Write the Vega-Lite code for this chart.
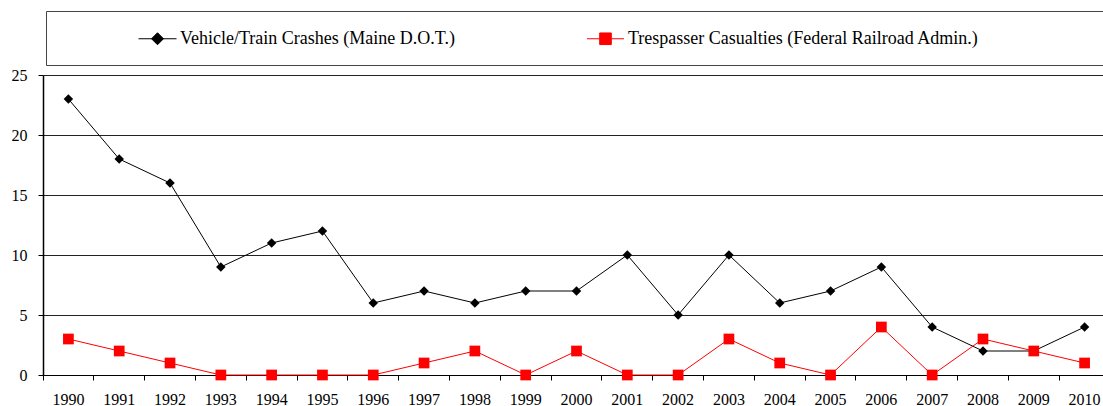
{
  "$schema": "https://vega.github.io/schema/vega-lite/v6.json",
  "width": 1060,
  "height": 300,
  "autosize": {"type": "none"},
  "padding": {"left": 43, "top": 75, "right": 0, "bottom": 31},
  "background": "white",
  "config": {"view": {"stroke": null}, "font": "Liberation Serif"},
  "data": {
    "values": [
      {"year": 1990, "series": "Vehicle/Train Crashes (Maine D.O.T.)", "value": 23},
      {"year": 1991, "series": "Vehicle/Train Crashes (Maine D.O.T.)", "value": 18},
      {"year": 1992, "series": "Vehicle/Train Crashes (Maine D.O.T.)", "value": 16},
      {"year": 1993, "series": "Vehicle/Train Crashes (Maine D.O.T.)", "value": 9},
      {"year": 1994, "series": "Vehicle/Train Crashes (Maine D.O.T.)", "value": 11},
      {"year": 1995, "series": "Vehicle/Train Crashes (Maine D.O.T.)", "value": 12},
      {"year": 1996, "series": "Vehicle/Train Crashes (Maine D.O.T.)", "value": 6},
      {"year": 1997, "series": "Vehicle/Train Crashes (Maine D.O.T.)", "value": 7},
      {"year": 1998, "series": "Vehicle/Train Crashes (Maine D.O.T.)", "value": 6},
      {"year": 1999, "series": "Vehicle/Train Crashes (Maine D.O.T.)", "value": 7},
      {"year": 2000, "series": "Vehicle/Train Crashes (Maine D.O.T.)", "value": 7},
      {"year": 2001, "series": "Vehicle/Train Crashes (Maine D.O.T.)", "value": 10},
      {"year": 2002, "series": "Vehicle/Train Crashes (Maine D.O.T.)", "value": 5},
      {"year": 2003, "series": "Vehicle/Train Crashes (Maine D.O.T.)", "value": 10},
      {"year": 2004, "series": "Vehicle/Train Crashes (Maine D.O.T.)", "value": 6},
      {"year": 2005, "series": "Vehicle/Train Crashes (Maine D.O.T.)", "value": 7},
      {"year": 2006, "series": "Vehicle/Train Crashes (Maine D.O.T.)", "value": 9},
      {"year": 2007, "series": "Vehicle/Train Crashes (Maine D.O.T.)", "value": 4},
      {"year": 2008, "series": "Vehicle/Train Crashes (Maine D.O.T.)", "value": 2},
      {"year": 2009, "series": "Vehicle/Train Crashes (Maine D.O.T.)", "value": 2},
      {"year": 2010, "series": "Vehicle/Train Crashes (Maine D.O.T.)", "value": 4},
      {"year": 1990, "series": "Trespasser Casualties (Federal Railroad Admin.)", "value": 3},
      {"year": 1991, "series": "Trespasser Casualties (Federal Railroad Admin.)", "value": 2},
      {"year": 1992, "series": "Trespasser Casualties (Federal Railroad Admin.)", "value": 1},
      {"year": 1993, "series": "Trespasser Casualties (Federal Railroad Admin.)", "value": 0},
      {"year": 1994, "series": "Trespasser Casualties (Federal Railroad Admin.)", "value": 0},
      {"year": 1995, "series": "Trespasser Casualties (Federal Railroad Admin.)", "value": 0},
      {"year": 1996, "series": "Trespasser Casualties (Federal Railroad Admin.)", "value": 0},
      {"year": 1997, "series": "Trespasser Casualties (Federal Railroad Admin.)", "value": 1},
      {"year": 1998, "series": "Trespasser Casualties (Federal Railroad Admin.)", "value": 2},
      {"year": 1999, "series": "Trespasser Casualties (Federal Railroad Admin.)", "value": 0},
      {"year": 2000, "series": "Trespasser Casualties (Federal Railroad Admin.)", "value": 2},
      {"year": 2001, "series": "Trespasser Casualties (Federal Railroad Admin.)", "value": 0},
      {"year": 2002, "series": "Trespasser Casualties (Federal Railroad Admin.)", "value": 0},
      {"year": 2003, "series": "Trespasser Casualties (Federal Railroad Admin.)", "value": 3},
      {"year": 2004, "series": "Trespasser Casualties (Federal Railroad Admin.)", "value": 1},
      {"year": 2005, "series": "Trespasser Casualties (Federal Railroad Admin.)", "value": 0},
      {"year": 2006, "series": "Trespasser Casualties (Federal Railroad Admin.)", "value": 4},
      {"year": 2007, "series": "Trespasser Casualties (Federal Railroad Admin.)", "value": 0},
      {"year": 2008, "series": "Trespasser Casualties (Federal Railroad Admin.)", "value": 3},
      {"year": 2009, "series": "Trespasser Casualties (Federal Railroad Admin.)", "value": 2},
      {"year": 2010, "series": "Trespasser Casualties (Federal Railroad Admin.)", "value": 1}
    ]
  },
  "encoding": {
    "x": {
      "field": "year",
      "type": "ordinal",
      "scale": {"type": "band", "range": [0, 1067], "paddingInner": 0, "paddingOuter": 0},
      "axis": {
        "title": null,
        "labelAngle": 0,
        "bandPosition": 0,
        "domainColor": "#000000",
        "domainWidth": 1,
        "tickColor": "#000000",
        "tickSize": 5,
        "labelPadding": 11,
        "labelFont": "Liberation Serif",
        "labelFontSize": 16,
        "labelColor": "#000000",
        "grid": false
      }
    },
    "y": {
      "field": "value",
      "type": "quantitative",
      "scale": {"domain": [0, 25], "nice": false},
      "axis": {
        "title": null,
        "values": [0, 5, 10, 15, 20, 25],
        "domainColor": "#000000",
        "domainWidth": 1.5,
        "tickColor": "#000000",
        "tickSize": 5,
        "labelPadding": 11,
        "labelFont": "Liberation Serif",
        "labelFontSize": 16,
        "labelColor": "#000000",
        "grid": true,
        "gridColor": "#222222",
        "gridWidth": 1.2,
        "gridOpacity": 1
      }
    }
  },
  "layer": [
    {
      "transform": [{"filter": "datum.series === 'Vehicle/Train Crashes (Maine D.O.T.)'"}],
      "mark": {"type": "line", "strokeWidth": 1, "color": "#000000"},
      "encoding": {}
    },
    {
      "transform": [{"filter": "datum.series === 'Trespasser Casualties (Federal Railroad Admin.)'"}],
      "mark": {"type": "line", "strokeWidth": 1, "color": "#ff0000"},
      "encoding": {}
    },
    {
      "transform": [{"filter": "datum.series === 'Vehicle/Train Crashes (Maine D.O.T.)'"}],
      "mark": {"type": "point", "filled": true, "opacity": 1, "shape": "diamond", "size": 90, "color": "#000000"},
      "encoding": {}
    },
    {
      "transform": [{"filter": "datum.series === 'Trespasser Casualties (Federal Railroad Admin.)'"}],
      "mark": {"type": "point", "filled": true, "opacity": 1, "shape": "square", "size": 115, "color": "#ff0000"},
      "encoding": {}
    },
    {
      "transform": [{"filter": "false"}],
      "mark": {"type": "point", "filled": true, "size": 400, "opacity": 1, "fillOpacity": 1, "strokeOpacity": 1},
      "encoding": {
        "fill": {
          "field": "series",
          "type": "nominal",
          "scale": {
            "domain": ["Vehicle/Train Crashes (Maine D.O.T.)", "Trespasser Casualties (Federal Railroad Admin.)"],
            "range": ["#000000", "#ff0000"]
          },
          "legend": {
            "orient": "none",
            "legendX": 3,
            "legendY": -64,
            "direction": "horizontal",
            "title": null,
            "padding": 17,
            "strokeColor": "#444444",
            "fillColor": "white",
            "symbolSize": 400,
            "symbolStrokeWidth": 1,
            "symbolOpacity": 1,
            "symbolOffset": 84,
            "labelOffset": 12,
            "columnPadding": 56,
            "labelFont": "Liberation Serif",
            "labelFontSize": 18,
            "labelColor": "#000000",
            "labelLimit": 1000
          }
        },
        "stroke": {
          "field": "series",
          "type": "nominal",
          "scale": {
            "domain": ["Vehicle/Train Crashes (Maine D.O.T.)", "Trespasser Casualties (Federal Railroad Admin.)"],
            "range": ["#000000", "#ff0000"]
          }
        },
        "shape": {
          "field": "series",
          "type": "nominal",
          "scale": {
            "domain": ["Vehicle/Train Crashes (Maine D.O.T.)", "Trespasser Casualties (Federal Railroad Admin.)"],
            "range": ["M-1.9,0H1.9M0,-0.6L0.6,0L0,0.6L-0.6,0Z", "M-1.85,0H1.85M-0.58,-0.58H0.58V0.58H-0.58ZM60,0"]
          }
        }
      }
    }
  ]
}
